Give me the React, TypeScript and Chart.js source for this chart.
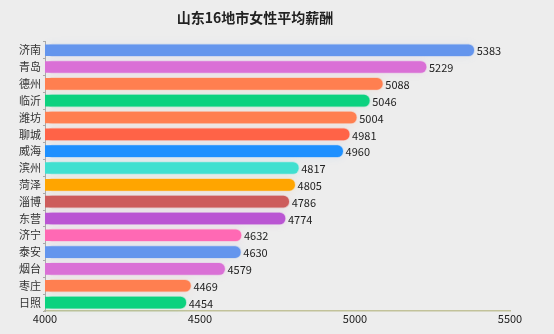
import React, { useEffect, useRef } from "react";
import { Chart, registerables } from "chart.js";

Chart.register(...registerables);

const TITLE = "山东16地市女性平均薪酬";
const cities = ["济南", "青岛", "德州", "临沂", "潍坊", "聊城", "威海", "滨州", "菏泽", "淄博", "东营", "济宁", "泰安", "烟台", "枣庄", "日照"];
const salaries = [5383, 5229, 5088, 5046, 5004, 4981, 4960, 4817, 4805, 4786, 4774, 4632, 4630, 4579, 4469, 4454];
const barColors = ["#6495ed", "#da70d6", "#ff7f50", "#0bd27f", "#ff7f50", "#ff6347", "#1e90ff", "#40e0d0", "#ffa500", "#cd5c5c", "#ba55d3", "#ff69b4", "#6495ed", "#da70d6", "#ff7f50", "#0bd27f"];
const xMin = 4000;
const xMax = 5500;
const xStep = 500;

const FONT = "'Noto Sans CJK SC', 'Noto Sans', sans-serif";

function hexToRgba(hex: string, a: number) {
  const n = parseInt(hex.slice(1), 16);
  return `rgba(${(n >> 16) & 255},${(n >> 8) & 255},${n & 255},${a})`;
}

const glowPlugin = {
  id: "glow",
  beforeDatasetsDraw(chart: any) {
    const ctx = chart.ctx;
    const meta = chart.getDatasetMeta(0);
    const left = chart.chartArea.left;
    ctx.save();
    meta.data.forEach((bar: any, i: number) => {
      const c = barColors[i];
      const h = bar.height;
      const w = bar.x - left;
      ctx.shadowColor = hexToRgba(c, 0.35);
      ctx.shadowBlur = 8;
      ctx.fillStyle = hexToRgba(c, 0.25);
      ctx.beginPath();
      ctx.roundRect(left + 1, bar.y - h / 2 - 1, w, h + 2, 6);
      ctx.fill();
    });
    ctx.restore();
  },
};

const labelPlugin = {
  id: "valueLabels",
  afterDatasetsDraw(chart: any) {
    const ctx = chart.ctx;
    const meta = chart.getDatasetMeta(0);
    ctx.save();
    ctx.font = `11px ${FONT}`;
    ctx.fillStyle = "#222";
    ctx.textAlign = "left";
    ctx.textBaseline = "middle";
    meta.data.forEach((bar: any, i: number) => {
      ctx.fillText(String(salaries[i]), bar.x + 3, bar.y + 1);
    });
    ctx.restore();
  },
};

export default function App() {
  const ref = useRef<HTMLCanvasElement>(null);
  useEffect(() => {
    if (!ref.current) return;
    const chart = new Chart(ref.current, {
      type: "bar",
      data: {
        labels: cities,
        datasets: [
          {
            data: salaries,
            backgroundColor: barColors,
            borderWidth: 0,
            borderRadius: 6,
            borderSkipped: "start",
            barThickness: 11,
          },
        ],
      },
      options: {
        indexAxis: "y",
        responsive: false,
        animation: false,
        layout: { padding: { left: 0, right: 44, top: 0, bottom: 0 } },
        plugins: {
          legend: { display: false },
          tooltip: { enabled: false },
          title: {
            display: true,
            text: TITLE,
            color: "#222",
            font: { family: FONT, size: 14, weight: "bold" },
            padding: { top: 9, bottom: 16 },
          },
        },
        scales: {
          x: {
            min: xMin,
            max: xMax,
            ticks: {
              stepSize: xStep,
              color: "#222",
              font: { family: FONT, size: 11 },
              padding: 1,
              callback: (v: any) => String(v),
            },
            grid: { display: false, drawTicks: false },
            border: { display: true, color: "#c2c29a", width: 1.5 },
            afterFit: (s: any) => {
              s.height = 23;
            },
          },
          y: {
            ticks: {
              color: "#333",
              font: { family: FONT, size: 11 },
              padding: 2,
            },
            grid: { drawOnChartArea: false, drawTicks: true, tickLength: 2, color: "#aaa" },
            border: { display: true, color: "#aaa", width: 1 },
            afterFit: (s: any) => {
              s.width = 45;
            },
          },
        },
      },
      plugins: [glowPlugin, labelPlugin],
    });
    return () => chart.destroy();
  }, []);
  return (
    <div style={{ position: "fixed", left: 0, top: 0, width: 554, height: 334, background: "#ededed" }}>
      <canvas ref={ref} width={554} height={334} style={{ display: "block" }} />
    </div>
  );
}
